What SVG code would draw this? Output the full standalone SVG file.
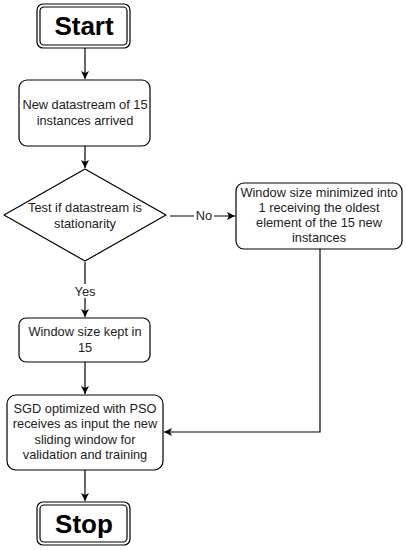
<svg xmlns="http://www.w3.org/2000/svg" width="406" height="550" viewBox="0 0 406 550">
<style>
.box{fill:#fff;stroke:#000;stroke-width:1.2}
.t{font-family:"Liberation Sans",Arial,sans-serif;font-size:12.8px;fill:#222;text-anchor:middle}
.b{font-family:"Liberation Sans",Arial,sans-serif;font-size:26px;font-weight:bold;fill:#000;text-anchor:middle}
.e{fill:none;stroke:#000;stroke-width:1.2}
</style>
<defs>
<marker id="ah" viewBox="0 0 10 10" refX="10" refY="5" markerWidth="8" markerHeight="8" markerUnits="userSpaceOnUse" orient="auto">
<path d="M0,0 L10,5 L0,10 L2.5,5 z" fill="#000"/>
</marker>
</defs>
<rect width="406" height="550" fill="#fff"/>
<g id="connectors">
<line class="e" x1="85" y1="48" x2="85" y2="79" marker-end="url(#ah)"/>
<line class="e" x1="85" y1="146" x2="85" y2="168" marker-end="url(#ah)"/>
<line class="e" x1="170" y1="216" x2="235" y2="216" marker-end="url(#ah)"/>
<rect x="194" y="209" width="20" height="14" fill="#fff"/>
<text class="t" x="204" y="220">No</text>
<line class="e" x1="85" y1="262" x2="85" y2="317" marker-end="url(#ah)"/>
<rect x="72" y="284" width="26" height="14" fill="#fff"/>
<text class="t" x="85" y="296">Yes</text>
<line class="e" x1="85" y1="362" x2="85" y2="394" marker-end="url(#ah)"/>
<polyline class="e" points="320,249 320,432 164,432" marker-end="url(#ah)"/>
<line class="e" x1="85" y1="470" x2="85" y2="501" marker-end="url(#ah)"/>
</g>
<g id="start">
<rect class="box" x="37" y="4" width="93" height="44" rx="6"/>
<rect class="box" x="40" y="7" width="87" height="38" rx="4"/>
<text class="b" x="84" y="35">Start</text>
</g>
<g id="newdata">
<rect class="box" x="19" y="80" width="131" height="66" rx="8"/>
<text class="t" x="85" y="109">New datastream of 15</text>
<text class="t" x="85" y="125">instances arrived</text>
</g>
<g id="test">
<path class="box" d="M85,169 L166,215 L85,261 L4,215 Z" stroke-linejoin="round"/>
<text class="t" x="85" y="212">Test if datastream is</text>
<text class="t" x="85" y="228">stationarity</text>
</g>
<g id="minimized">
<rect class="box" x="236" y="183" width="166" height="66" rx="8"/>
<text class="t" x="319" y="197">Window size minimized into</text>
<text class="t" x="319" y="212">1 receiving the oldest</text>
<text class="t" x="319" y="227">element of the 15 new</text>
<text class="t" x="319" y="242">instances</text>
</g>
<g id="kept">
<rect class="box" x="19" y="318" width="131" height="44" rx="7"/>
<text class="t" x="85" y="336">Window size kept in</text>
<text class="t" x="85" y="352">15</text>
</g>
<g id="sgd">
<rect class="box" x="7" y="395" width="156" height="75" rx="9"/>
<text class="t" x="85" y="413">SGD optimized with PSO</text>
<text class="t" x="85" y="428">receives as input the new</text>
<text class="t" x="85" y="444">sliding window for</text>
<text class="t" x="85" y="459">validation and training</text>
</g>
<g id="stop">
<rect class="box" x="37" y="502" width="93" height="43" rx="6"/>
<rect class="box" x="40" y="505" width="87" height="37" rx="4"/>
<text class="b" x="84" y="533">Stop</text>
</g>
</svg>
